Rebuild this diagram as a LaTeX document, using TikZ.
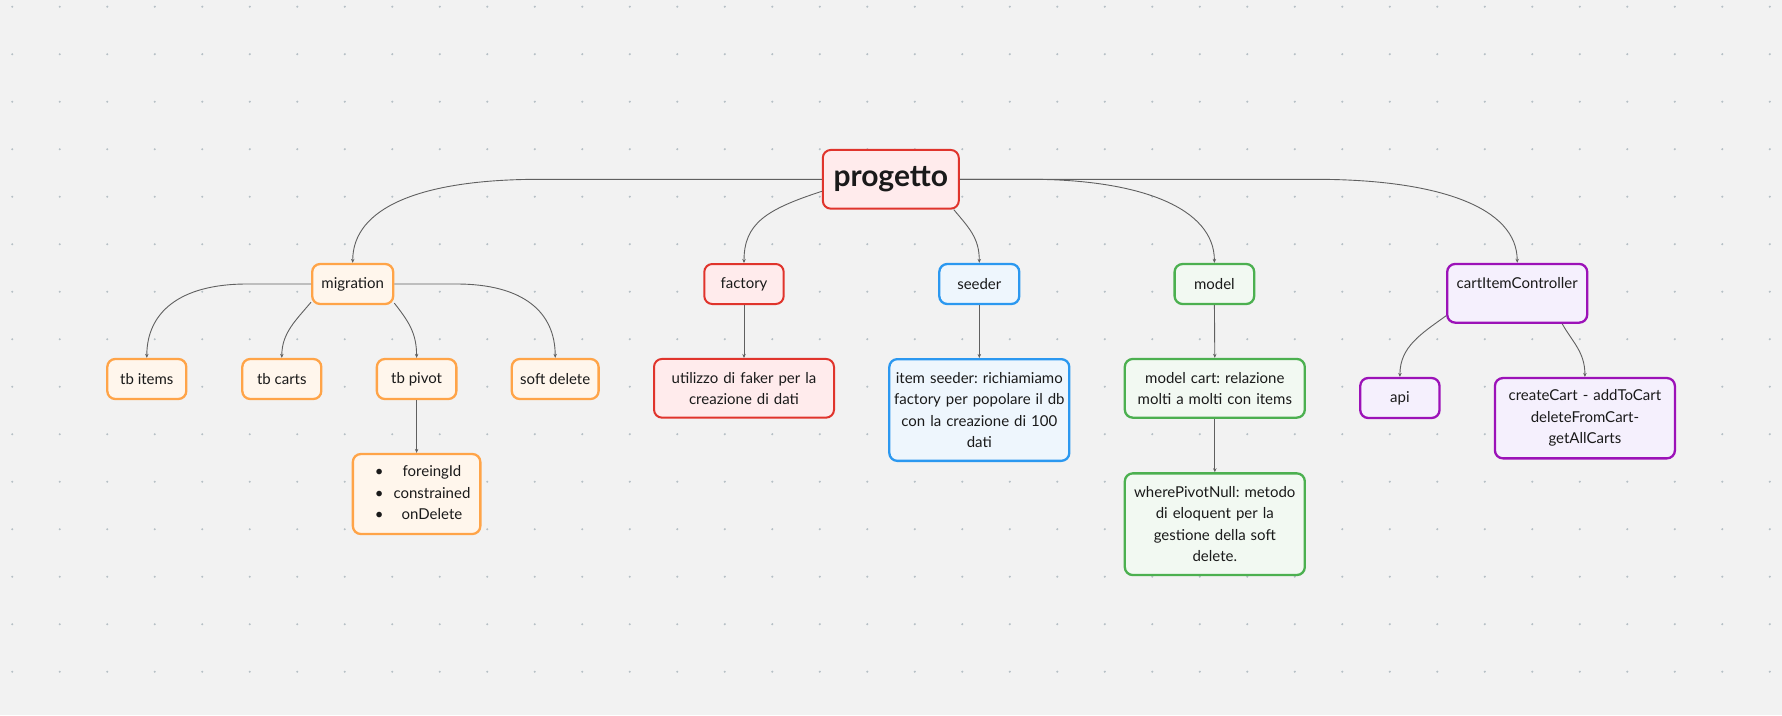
\documentclass[tikz,border=0pt]{standalone}
\usepackage{fontspec}
\setmainfont{Lato}
\usetikzlibrary{arrows.meta}
\frenchspacing

\definecolor{bgcanvas}{HTML}{F2F2F2}
\definecolor{griddot}{HTML}{B6C0C6}
\definecolor{linkgray}{HTML}{606060}
\definecolor{inkblack}{HTML}{1A1A1A}
\definecolor{redline}{HTML}{E0342C}
\definecolor{redfill}{HTML}{FFEBEC}
\definecolor{orangeline}{HTML}{FFA448}
\definecolor{orangefill}{HTML}{FFF6EC}
\definecolor{blueline}{HTML}{2B98F0}
\definecolor{bluefill}{HTML}{EEF6FD}
\definecolor{greenline}{HTML}{4CB050}
\definecolor{greenfill}{HTML}{F2F9F2}
\definecolor{purpleline}{HTML}{9C12B8}
\definecolor{purplefill}{HTML}{F5F0FD}

\begin{document}
\begin{tikzpicture}[x=1pt,y=-1pt,
  box/.style={draw,rounded corners=8pt,line width=2.3pt,inner sep=0pt,
    align=center,text=inkblack,font=\fontsize{15}{21.5}\selectfont},
  tone/.style={draw=#1line,fill=#1fill},
  leaf/.style={box,minimum width=#1,minimum height=40pt},
  note/.style={box,minimum width=180pt,text width=176pt},
  link/.style={draw=linkgray,line width=0.9pt,-{Stealth[length=4pt,width=3.5pt]}}]
\useasboundingbox (0,0) rectangle (1782,715);
\fill[bgcanvas] (0,0) rectangle (1782,715);
\foreach \i in {0,...,37}
  \foreach \j in {0,...,15}
    \fill[griddot] (12.3+47.5*\i,6.7+47.5*\j) circle (1.15);

% root
\node[box,tone=red,line width=2pt,minimum width=136pt,minimum height=58.7pt,
  font=\fontsize{30}{32}\selectfont\bfseries] (root) at (890.8,179.3) {progetto};

% migration branch
\node[leaf=81pt,tone=orange] (mig) at (352.7,284) {migration};
\node[leaf=79pt,tone=orange] (tbitems) at (146.8,379) {tb items};
\node[leaf=79pt,tone=orange] (tbcarts) at (281.8,379) {tb carts};
\node[leaf=79.5pt,tone=orange] (tbpivot) at (416.6,379) {tb pivot};
\node[leaf=86.8pt,tone=orange] (softdel) at (555.2,379) {soft delete};
\node[box,tone=orange,minimum width=127.5pt,minimum height=80pt] (pivlist) at (416.6,494)
  {\hspace*{12pt}\begin{tabular}{@{}c@{\hspace{10pt}}c@{}}
    \textbullet & foreingId\\
    \textbullet & constrained\\
    \textbullet & onDelete
  \end{tabular}};

% factory and seeder
\node[leaf=79.4pt,tone=red,line width=2pt] (factory) at (744,284) {factory};
\node[note,tone=red,line width=2pt,minimum height=58.7pt] (fakerbox) at (744,388.3)
  {utilizzo di faker per la\\creazione di dati};
\node[leaf=80pt,tone=blue] (seeder) at (979.3,284) {seeder};
\node[note,tone=blue,minimum height=101.7pt] (seedbox) at (979.3,410)
  {item seeder: richiamiamo\\factory per popolare il db\\con la creazione di 100\\dati};

% model
\node[leaf=79.6pt,tone=green] (model) at (1214.4,284) {model};
\node[note,tone=green,minimum height=58.7pt] (modelcart) at (1214.8,388.3)
  {model cart: relazione\\molti a molti con items};
\node[note,tone=green,minimum height=101.7pt] (wherepivot) at (1214.8,524.2)
  {wherePivotNull: metodo\\di eloquent per la\\gestione della soft\\delete.};

% controller
\node[box,tone=purple,minimum width=140pt,minimum height=58.7pt] (cart) at (1517.2,293.3)
  {cartItemController\\\mbox{}};
\node[leaf=79.3pt,tone=purple] (api) at (1399.9,398) {api};
\node[note,tone=purple,minimum height=80.3pt] (cbox) at (1584.9,418.2)
  {createCart - addToCart\\deleteFromCart-\\getAllCarts};

% links
\draw[link] (root.west) -- ++(-282,0) .. controls +(-120,0) and +(0,-55) .. (mig.north);
\draw[link] ([yshift=-12pt]root.west) .. controls +(-55,18) and +(0,-40) .. (factory.north);
\draw[link] ([xshift=-6pt]root.south east) .. controls +(15,18) and +(0,-25) .. (seeder.north);
\draw[link] (root.east) -- ++(70,0) .. controls +(110,0) and +(0,-55) .. (model.north);
\draw[link] (root.east) -- ++(355,0) .. controls +(125,0) and +(0,-55) .. (cart.north);

\draw[link] (mig.west) -- ++(-64,0) .. controls +(-68,0) and +(0,-45) .. (tbitems.north);
\draw[link] ([yshift=3pt]mig.south west) .. controls +(-15,18) and +(0,-25) .. (tbcarts.north);
\draw[link] ([yshift=2pt]mig.south east) .. controls +(14,18) and +(0,-25) .. (tbpivot.north);
\draw[link] (mig.east) -- ++(62,0) .. controls +(68,0) and +(0,-45) .. (softdel.north);
\draw[link] (tbpivot.south) -- (pivlist.north);

\draw[link] (factory.south) -- (fakerbox.north);
\draw[link] (seeder.south) -- (seedbox.north);
\draw[link] (model.south) -- (modelcart.north);
\draw[link] (modelcart.south) -- (wherepivot.north);

\draw[link] ([yshift=8pt]cart.south west) .. controls +(-25,18) and +(0,-30) .. (api.north);
\draw[link] ([xshift=45pt]cart.south) .. controls +(10,18) and +(0,-25) .. (cbox.north);
\end{tikzpicture}
\end{document}
